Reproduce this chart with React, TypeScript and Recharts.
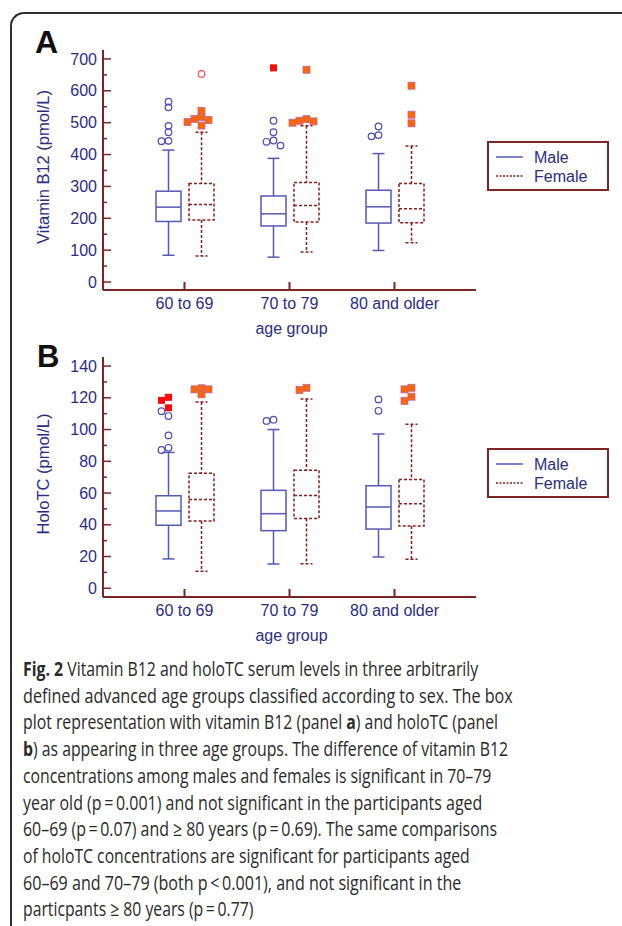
import React, { useLayoutEffect, useRef, useState } from 'react';
import { BarChart, Bar, XAxis, YAxis } from 'recharts';

const AGE_GROUPS = ['60 to 69', '70 to 79', '80 and older'];

// box stats per age group: [lower whisker, Q1, median, Q3, upper whisker]
const B12_MALE = [[84, 190, 235, 285, 414], [78, 176, 214, 270, 388], [99, 185, 236, 288, 403]];
const B12_FEMALE = [[82, 195, 243, 309, 470], [94, 188, 240, 312, 490], [123, 186, 230, 309, 427]];
// outside values (circles) and far-out values (squares)
const B12_MALE_CIRCLES = [[566, 548, 490, 470, 443, 442], [506, 470, 444, 440, 428], [488, 461, 457]];
const B12_MALE_SQUARES = [[], [672], []];
const B12_FEMALE_CIRCLES = [[653], [], []];
const B12_FEMALE_SQUARES = [[537, 518, 512, 508, 502, 491], [666, 511, 506, 504, 500], [616, 525, 498]];

const HOLO_MALE = [[18.5, 39.7, 48.7, 58.3, 85.6], [15.3, 36.3, 47, 61.7, 100], [19.7, 37.3, 51.2, 64.6, 97.2]];
const HOLO_FEMALE = [[10.7, 42.4, 56, 72.4, 117.3], [15.5, 44, 58.5, 74.3, 119.2], [18.3, 39.2, 53.3, 68.6, 103.3]];
const HOLO_MALE_CIRCLES = [[111.6, 108.5, 96.3, 88.5, 87.1], [106.2, 105.4], [119, 111.8]];
const HOLO_MALE_SQUARES = [[120.3, 118.4, 113.7], [], []];
const HOLO_FEMALE_CIRCLES = [[], [], []];
const HOLO_FEMALE_SQUARES = [[126, 125.3, 125.3, 122.2], [126.3, 124.9], [126.3, 125.3, 120.7, 118.1]];

const B12_TICKS = [0, 50, 100, 150, 200, 250, 300, 350, 400, 450, 500, 550, 600, 650, 700];
const HOLO_TICKS = [0, 10, 20, 30, 40, 50, 60, 70, 80, 90, 100, 110, 120, 130, 140];

const CAPTION = [
  [['Fig. 2', true], [' Vitamin B12 and holoTC serum levels in three arbitrarily', false]],
  [['defined advanced age groups classified according to sex. The box', false]],
  [['plot representation with vitamin B12 (panel ', false], ['a', true], [') and holoTC (panel', false]],
  [['b', true], [') as appearing in three age groups. The difference of vitamin B12', false]],
  [['concentrations among males and females is significant in 70\u201379', false]],
  [['year old (p\u2009=\u20090.001) and not significant in the participants aged', false]],
  [['60\u201369 (p\u2009=\u20090.07) and \u2265 80 years (p\u2009=\u20090.69). The same comparisons', false]],
  [['of holoTC concentrations are significant for participants aged', false]],
  [['60\u201369 and 70\u201379 (both p\u2009<\u20090.001), and not significant in the', false]],
  [['particpants \u2265 80 years (p\u2009=\u20090.77)', false]],
] as [string, boolean][][];
const CAPTION_WIDTHS = [455, 490, 475, 485, 468, 459, 474, 447, 438, 230];

const TEXT = '#2b2d85';
const MALE = '#5558b8';
const FEMALE = '#8b1c1c';
const FRAME = '#7d2424';
const FONT = '"Liberation Sans", Arial, sans-serif';

const makeRows = (m: number[][], f: number[][], mc: number[][], ms: number[][], fc: number[][], fs: number[][]) =>
  AGE_GROUPS.map((group, i) => ({
    group,
    male: m[i],
    female: f[i],
    maleCircles: mc[i],
    maleSquares: ms[i],
    femaleCircles: fc[i],
    femaleSquares: fs[i],
  }));

const b12Rows = makeRows(B12_MALE, B12_FEMALE, B12_MALE_CIRCLES, B12_MALE_SQUARES, B12_FEMALE_CIRCLES, B12_FEMALE_SQUARES);
const holoRows = makeRows(HOLO_MALE, HOLO_FEMALE, HOLO_MALE_CIRCLES, HOLO_MALE_SQUARES, HOLO_FEMALE_CIRCLES, HOLO_FEMALE_SQUARES);

function BoxShape(props: any) {
  const { x, y, width, height, payload, sex } = props;
  const [lo, q1, med, q3, hi] = payload[sex] as number[];
  const top = Math.min(y, y + height);
  const bottom = Math.max(y, y + height);
  const ppu = (bottom - top) / (q3 - q1);
  const toY = (v: number) => top + (q3 - v) * ppu;
  const cx = x + width / 2;
  const color = sex === 'male' ? MALE : FEMALE;
  const dash = sex === 'male' ? undefined : '3 2';
  const sw = 1.5;

  // outliers, nudged sideways when they would overlap
  const marks = [
    ...(payload[sex + 'Squares'] as number[]).map((v) => ({ v, kind: 'square' })),
    ...(payload[sex + 'Circles'] as number[]).map((v) => ({ v, kind: 'circle' })),
  ].sort((a, b) => b.v - a.v);
  const placed: { x: number; y: number; kind: string }[] = [];
  const offsets = [0, -7, 7, -14, 14];
  marks.forEach((m) => {
    const py = toY(m.v);
    const dx = offsets.find((o) => placed.every((p) => Math.abs(p.x - (cx + o)) >= 7 || Math.abs(p.y - py) >= 5.5)) ?? 0;
    placed.push({ x: cx + dx, y: py, kind: m.kind });
  });

  return (
    <g>
      <line x1={cx} x2={cx} y1={toY(hi)} y2={toY(q3)} stroke={color} strokeWidth={sw} strokeDasharray={dash} />
      <line x1={cx} x2={cx} y1={toY(q1)} y2={toY(lo)} stroke={color} strokeWidth={sw} strokeDasharray={dash} />
      <line x1={cx - 6} x2={cx + 6} y1={toY(hi)} y2={toY(hi)} stroke={color} strokeWidth={sw} strokeDasharray={dash} />
      <line x1={cx - 6} x2={cx + 6} y1={toY(lo)} y2={toY(lo)} stroke={color} strokeWidth={sw} strokeDasharray={dash} />
      <rect x={x} y={top} width={width} height={bottom - top} fill="none" stroke={color} strokeWidth={sw} strokeDasharray={dash} />
      <line x1={x} x2={x + width} y1={toY(med)} y2={toY(med)} stroke={color} strokeWidth={sw} strokeDasharray={dash} />
      {placed.map((p, i) => {
        if (p.kind === 'circle') {
          return <circle key={i} cx={p.x} cy={p.y} r={3.3} fill="none" stroke={sex === 'male' ? '#4a4db4' : '#ff5050'} strokeWidth={1.2} />;
        }
        return sex === 'male' ? (
          <rect key={i} x={p.x - 3.5} y={p.y - 3.5} width={7} height={7} fill="#ff0a0a" />
        ) : (
          <rect key={i} x={p.x - 3.5} y={p.y - 3.5} width={7} height={7} fill="#ff6600" stroke="#b868a8" strokeWidth={0.8} />
        );
      })}
    </g>
  );
}

const XTick = (props: any) => {
  const { x, y, payload } = props;
  return (
    <g>
      <line x1={x} x2={x} y1={y} y2={y - 8} stroke={FRAME} strokeWidth={2} />
      <text x={x} y={y + 19} textAnchor="middle" fill={TEXT} fontSize={16} fontFamily={FONT}>
        {payload.value}
      </text>
    </g>
  );
};

const YTick = (props: any) => {
  const { x, y, payload, major } = props;
  const isMajor = payload.value % major === 0;
  return (
    <g>
      <line x1={x} x2={x + (isMajor ? 8 : 4)} y1={y} y2={y} stroke={FRAME} strokeWidth={1.5} />
      {isMajor && (
        <text x={x - 6} y={y} dy="0.35em" textAnchor="end" fill={TEXT} fontSize={16} fontFamily={FONT}>
          {payload.value}
        </text>
      )}
    </g>
  );
};

function Panel({ rows, domain, ticks, major, yLabel }: any) {
  const axisLine = { stroke: FRAME, strokeWidth: 2 };
  return (
    <BarChart width={622} height={345} data={rows} margin={{ top: 50, right: 146, bottom: 10, left: 0 }} barSize={25} barGap={8}>
      <XAxis
        dataKey="group"
        height={45}
        padding={{ left: 29, right: 29 }}
        axisLine={axisLine}
        tickLine={false}
        tickSize={0}
        tickMargin={0}
        interval={0}
        tick={<XTick />}
        label={{
          content: (p: any) => {
            const vb = p.viewBox;
            return (
              <text x={vb.x + vb.width / 2 + 2} y={vb.y + 44} textAnchor="middle" fill={TEXT} fontSize={16} fontFamily={FONT}>
                age group
              </text>
            );
          },
        }}
      />
      <XAxis xAxisId="top" orientation="top" dataKey="group" height={0} tick={false} tickLine={false} axisLine={axisLine} />
      <YAxis
        type="number"
        width={103}
        domain={domain}
        ticks={ticks}
        interval={0}
        allowDataOverflow
        axisLine={axisLine}
        tickLine={false}
        tickSize={0}
        tickMargin={0}
        tick={(p: any) => <YTick {...p} major={major} />}
        label={{
          content: (p: any) => {
            const vb = p.viewBox;
            const lx = vb.x + 43;
            const ly = vb.y + vb.height / 2 - 3;
            return (
              <text x={lx} y={ly} dy="0.35em" transform={`rotate(-90 ${lx} ${ly})`} textAnchor="middle" fill={TEXT} fontSize={16.5} fontFamily={FONT}>
                {yLabel}
              </text>
            );
          },
        }}
      />
      <YAxis yAxisId="right" orientation="right" type="number" width={0} domain={domain} allowDataOverflow tick={false} tickLine={false} axisLine={axisLine} />
      <Bar dataKey={(d: any) => [d.male[1], d.male[3]]} isAnimationActive={false} shape={(p: any) => <BoxShape {...p} sex="male" />} />
      <Bar dataKey={(d: any) => [d.female[1], d.female[3]]} isAnimationActive={false} shape={(p: any) => <BoxShape {...p} sex="female" />} />
    </BarChart>
  );
}

const SexLegend = ({ top }: { top: number }) => (
  <svg width={124} height={52} style={{ position: 'absolute', left: 486, top }}>
    <rect x={2} y={2} width={120} height={48} fill="#fff" stroke={FRAME} strokeWidth={2} />
    <line x1={10} x2={37} y1={17} y2={17} stroke={MALE} strokeWidth={1.5} />
    <line x1={10} x2={37} y1={36} y2={36} stroke={FEMALE} strokeWidth={1.5} strokeDasharray="2 1.5" />
    <text x={48} y={23} fill={TEXT} fontSize={16} fontFamily={FONT}>Male</text>
    <text x={48} y={42} fill={TEXT} fontSize={16} fontFamily={FONT}>Female</text>
  </svg>
);

// one caption line, squeezed horizontally to the width it has in the figure
const CaptionLine = ({ parts, width, top }: { parts: [string, boolean][]; width: number; top: number }) => {
  const ref = useRef<HTMLDivElement>(null);
  const [k, setK] = useState(1);
  useLayoutEffect(() => {
    if (ref.current) setK(width / ref.current.scrollWidth);
  }, [width]);
  return (
    <div
      ref={ref}
      style={{
        position: 'absolute',
        left: 22.5,
        top,
        whiteSpace: 'nowrap',
        fontFamily: '"Open Sans", sans-serif',
        fontSize: 20,
        lineHeight: '26px',
        color: '#2a2a2a',
        transform: `scaleX(${k})`,
        transformOrigin: '0 0',
      }}
    >
      {parts.map(([t, b], j) =>
        b ? <b key={j}>{t}</b> : <span key={j}>{t}</span>
      )}
    </div>
  );
};

export default function App() {
  return (
    <div style={{ position: 'absolute', left: 0, top: 0, width: 622, height: 926, overflow: 'hidden', background: '#fff', fontFamily: FONT }}>
      <div
        style={{
          position: 'absolute',
          left: 10,
          top: 12,
          width: 700,
          height: 1000,
          borderTop: '2px solid #2e2e2e',
          borderLeft: '2px solid #2e2e2e',
          borderTopLeftRadius: 14,
        }}
      />
      <div style={{ position: 'absolute', left: 0, top: 0 }}>
        <Panel rows={b12Rows} domain={[-25, 728]} ticks={B12_TICKS} major={100} yLabel="Vitamin B12 (pmol/L)" />
      </div>
      <div style={{ position: 'absolute', left: 0, top: 307 }}>
        <Panel rows={holoRows} domain={[-5.5, 145.7]} ticks={HOLO_TICKS} major={20} yLabel="HoloTC (pmol/L)" />
      </div>
      <svg width={80} height={400} style={{ position: 'absolute', left: 0, top: 0 }}>
        <text x={35} y={53} fontSize={32} fontWeight="bold" fontFamily={FONT} fill="#111">A</text>
        <text x={37} y={367} fontSize={31} fontWeight="bold" fontFamily={FONT} fill="#111">B</text>
      </svg>
      <SexLegend top={140} />
      <SexLegend top={447} />
      {CAPTION.map((line, i) => (
        <CaptionLine key={i} parts={line} width={CAPTION_WIDTHS[i]} top={656 + i * 26.7} />
      ))}
    </div>
  );
}
